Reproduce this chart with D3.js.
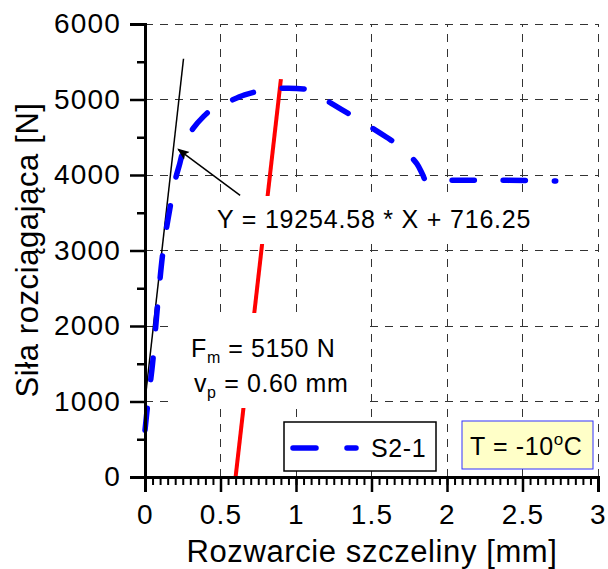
<!DOCTYPE html>
<html>
<head>
<meta charset="utf-8">
<script src="https://cdn.jsdelivr.net/npm/d3@7"></script>
<style>
  body { margin: 0; background: #fff; }
  svg { display: block; font-family: "Liberation Sans", Arial, sans-serif; }
  .axis path, .axis line { stroke: #000; }
  .grid line { stroke: #333; stroke-width: 1; stroke-dasharray: 8,7; shape-rendering: crispEdges; }
</style>
</head>
<body>
<svg width="608" height="569"></svg>
<script>
// Measured curve S2-1 (opening [mm], force [N])
var curveX = [0, 0.02, 0.05, 0.08, 0.12, 0.16, 0.2, 0.23, 0.27, 0.32, 0.39, 0.45, 0.53, 0.66, 0.8, 0.93,
              1.05, 1.1, 1.2, 1.3, 1.45, 1.6, 1.7, 1.8, 1.84, 1.86, 2.0, 2.3, 2.6, 2.72];
var curveY = [620, 1000, 1500, 2200, 3000, 3500, 3930, 4150, 4450, 4620, 4780, 4880, 4950, 5060, 5130, 5150,
              5140, 5120, 4990, 4870, 4690, 4500, 4360, 4150, 4000, 3930, 3930, 3930, 3925, 3920];
// Linear fit line and unloading (red) line end points
var fitX = [0, 0.255], fitY = [1010, 5540];
var redX = [0.6, 0.9], redY = [0, 5270];
// Arrow from label to fit line
var arrowX = [0.63, 0.22], arrowY = [3730, 4340];
var xTicks = [0, 0.5, 1, 1.5, 2, 2.5, 3];
var yTicks = [0, 1000, 2000, 3000, 4000, 5000, 6000];
var seriesName = "S2-1";
var fitLabel = "Y = 19254.58 * X + 716.25";

var margin = { left: 145, right: 10, top: 24, bottom: 92 }
  , width = 608, height = 569;

var svg = d3.select("svg");
var x = d3.scaleLinear().domain([0, 3]).range([margin.left, width - margin.right]);
var y = d3.scaleLinear().domain([0, 6000]).range([height - margin.bottom, margin.top]);

// Grid
var grid = svg.append("g").attr("class", "grid");
grid.selectAll(".gx").data(xTicks.slice(1)).enter().append("line")
    .attr("x1", function (d){ return x(d); }).attr("x2", function (d){ return x(d); })
    .attr("y1", y(0)).attr("y2", y(6000));
grid.selectAll(".gy").data(yTicks.slice(1)).enter().append("line")
    .attr("x1", x(0)).attr("x2", x(3))
    .attr("y1", function (d){ return y(d); }).attr("y2", function (d){ return y(d); });

// Lines
var straight = d3.line()
    .x(function (d){ return x(d[0]); })
    .y(function (d){ return y(d[1]); });

svg.append("path")
    .datum(d3.zip(redX, redY))
    .attr("d", straight)
    .attr("stroke", "#ff0000").attr("stroke-width", 4).attr("fill", "none");

svg.append("path")
    .datum(d3.zip(fitX, fitY))
    .attr("d", straight)
    .attr("stroke", "#000").attr("stroke-width", 1.5).attr("fill", "none");

svg.append("path")
    .datum(d3.zip(curveX, curveY))
    .attr("d", straight.curve(d3.curveCatmullRom))
    .attr("stroke", "#0000ff").attr("stroke-width", 5.5).attr("fill", "none")
    .attr("stroke-linecap", "round").attr("stroke-dasharray", "22,29");

// White label boxes (cover lines like in the original)
svg.append("rect").attr("x", 208).attr("y", 196).attr("width", 334).attr("height", 48).attr("fill", "#fff");
svg.append("rect").attr("x", 175).attr("y", 313).attr("width", 188).attr("height", 95).attr("fill", "#fff");

// Arrow
svg.append("defs").append("marker")
    .attr("id", "arr").attr("viewBox", "0 0 10 10").attr("refX", 9).attr("refY", 5)
    .attr("markerWidth", 12).attr("markerHeight", 12).attr("markerUnits", "userSpaceOnUse")
    .attr("orient", "auto")
  .append("path").attr("d", "M0,1 L10,5 L0,9 L2,5 Z").attr("fill", "#000");
svg.append("line")
    .attr("x1", x(arrowX[0])).attr("y1", y(arrowY[0]))
    .attr("x2", x(arrowX[1])).attr("y2", y(arrowY[1]))
    .attr("stroke", "#000").attr("stroke-width", 1.5).attr("marker-end", "url(#arr)");

// Annotations
svg.append("text").attr("x", 217).attr("y", 228).attr("font-size", 25).attr("letter-spacing", 0.8)
    .text(fitLabel);
var fm = svg.append("text").attr("x", 191).attr("y", 357).attr("font-size", 25).attr("letter-spacing", 0.6);
fm.append("tspan").text("F");
fm.append("tspan").attr("font-size", 16).attr("dy", 6).text("m");
fm.append("tspan").attr("dy", -6).text(" = 5150 N");
var vp = svg.append("text").attr("x", 194).attr("y", 392).attr("font-size", 25).attr("letter-spacing", 0.6);
vp.append("tspan").text("v");
vp.append("tspan").attr("font-size", 16).attr("dy", 6).text("p");
vp.append("tspan").attr("dy", -6).text(" = 0.60 mm");

// Axes
var xAxis = svg.append("g").attr("class", "axis")
    .attr("transform", "translate(0," + y(0) + ")")
    .call(d3.axisBottom(x).tickValues(d3.range(0, 3.0001, 0.05)).tickSize(8).tickFormat(""));
xAxis.selectAll("line").attr("stroke-width", 2);
var xAxisMajor = svg.append("g").attr("class", "axis")
    .attr("transform", "translate(0," + y(0) + ")")
    .call(d3.axisBottom(x).tickValues(xTicks).tickSize(15).tickPadding(12).tickFormat(d3.format("~g")));
xAxisMajor.selectAll("line").attr("stroke-width", 2.5);
xAxisMajor.selectAll("path").attr("stroke-width", 3);
xAxisMajor.selectAll("text").attr("font-size", 28).attr("letter-spacing", 1.2)
    .attr("font-family", "Liberation Sans, Arial, sans-serif").attr("fill", "#000");

var yAxis = svg.append("g").attr("class", "axis")
    .attr("transform", "translate(" + x(0) + ",0)")
    .call(d3.axisLeft(y).tickValues(d3.range(500, 6000, 1000)).tickSize(8).tickFormat(""));
yAxis.selectAll("line").attr("stroke-width", 2.5);
yAxis.select("path").remove();
var yAxisMajor = svg.append("g").attr("class", "axis")
    .attr("transform", "translate(" + x(0) + ",0)")
    .call(d3.axisLeft(y).tickValues(yTicks).tickSize(15).tickPadding(9).tickFormat(d3.format("d")));
yAxisMajor.selectAll("line").attr("stroke-width", 2.5);
yAxisMajor.selectAll("path").attr("stroke-width", 3);
yAxisMajor.selectAll("text").attr("font-size", 28).attr("letter-spacing", 1.2)
    .attr("font-family", "Liberation Sans, Arial, sans-serif").attr("fill", "#000");

// Axis titles
svg.append("text").attr("x", 372).attr("y", 562).attr("text-anchor", "middle")
    .attr("font-size", 31).attr("letter-spacing", 0.6).text("Rozwarcie szczeliny [mm]");
svg.append("text").attr("transform", "translate(38,250) rotate(-90)").attr("text-anchor", "middle")
    .attr("font-size", 31).attr("letter-spacing", 0.6).text("Siła rozciągająca [N]");

// Legend
var lg = svg.append("g");
lg.append("rect").attr("x", 284).attr("y", 422).attr("width", 152).attr("height", 49)
    .attr("fill", "#fff").attr("stroke", "#000").attr("stroke-width", 1.5);
lg.append("line").attr("x1", 293).attr("x2", 356).attr("y1", 448).attr("y2", 448)
    .attr("stroke", "#0000ff").attr("stroke-width", 5.5).attr("stroke-linecap", "round")
    .attr("stroke-dasharray", "23,31");
lg.append("text").attr("x", 371).attr("y", 457).attr("font-size", 25).attr("letter-spacing", 0.6)
    .text(seriesName);

// Temperature box
var tb = svg.append("g");
tb.append("rect").attr("x", 462).attr("y", 421).attr("width", 131).attr("height", 48)
    .attr("fill", "#ffffc8").attr("stroke", "#3333ff").attr("stroke-width", 1);
var tt = tb.append("text").attr("x", 470).attr("y", 455).attr("font-size", 25).attr("letter-spacing", 0.6);
tt.append("tspan").text("T = -10");
tt.append("tspan").attr("font-size", 17).attr("dy", -10).text("o");
tt.append("tspan").attr("dy", 10).text("C");
</script>
</body>
</html>
